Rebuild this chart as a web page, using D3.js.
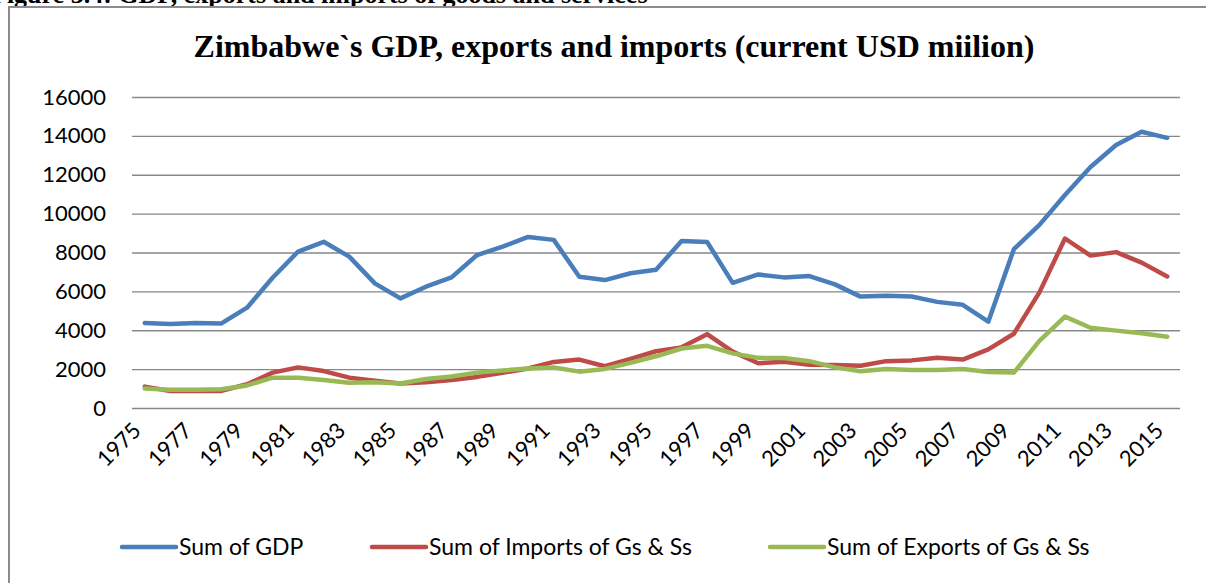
<!DOCTYPE html>
<html>
<head>
<meta charset="utf-8">
<script src="https://cdn.jsdelivr.net/npm/d3@7/dist/d3.min.js"></script>
<style>
  html, body { margin: 0; padding: 0; background: #fff; overflow: hidden; }
  svg { display: block; }
</style>
</head>
<body>
<div id="chart"></div>
<script>
// Zimbabwe GDP, imports and exports, current USD million
const years = [
  1975, 1976, 1977, 1978, 1979, 1980, 1981, 1982, 1983, 1984,
  1985, 1986, 1987, 1988, 1989, 1990, 1991, 1992, 1993, 1994,
  1995, 1996, 1997, 1998, 1999, 2000, 2001, 2002, 2003, 2004,
  2005, 2006, 2007, 2008, 2009, 2010, 2011, 2012, 2013, 2014, 2015
];

const gdp = [
  4370, 4320, 4370, 4350, 5160, 6700, 8050, 8550, 7790, 6410,
  5640, 6240, 6720, 7870, 8300, 8800, 8650, 6750, 6580, 6930,
  7110, 8590, 8540, 6440, 6870, 6720, 6790, 6360, 5730, 5780,
  5740, 5460, 5310, 4440, 8170, 9420, 10960, 12400, 13530, 14210, 13900
];

const imports = [
  1100, 870, 890, 880, 1220, 1820, 2090, 1900, 1560, 1400,
  1260, 1330, 1440, 1600, 1810, 2030, 2370, 2490, 2150, 2530,
  2920, 3120, 3800, 2900, 2300, 2380, 2220, 2210, 2170, 2410,
  2450, 2580, 2490, 3020, 3820, 5950, 8720, 7840, 8020, 7480, 6770
];

const exports = [
  1000, 940, 940, 960, 1160, 1560, 1560, 1440, 1300, 1320,
  1260, 1490, 1620, 1820, 1930, 2030, 2080, 1870, 2010, 2320,
  2660, 3060, 3200, 2810, 2580, 2570, 2410, 2090, 1890, 2010,
  1950, 1950, 2010, 1850, 1820, 3450, 4700, 4130, 3980, 3850, 3670
];

const yTicks = [0, 2000, 4000, 6000, 8000, 10000, 12000, 14000, 16000];
const xLabelYears = years.filter((d, i) => i % 2 === 0);

const seriesNames = ["Sum of GDP", "Sum of Imports of Gs & Ss", "Sum of Exports of Gs & Ss"];
const seriesColors = ["#4a7ebb", "#be4b48", "#98b954"];

const series = [gdp, imports, exports].map((vals, i) => ({
  name: seriesNames[i],
  color: seriesColors[i],
  values: vals.map((v, j) => ({ year: years[j], value: v }))
}));

// === LAYOUT ===
const W = 1206, H = 583;
const plot = { left: 132, right: 1180, top: 97, bottom: 408 };
const labelFont = "Lato, 'Open Sans', sans-serif";
const serifFont = "'Liberation Serif', 'Times New Roman', serif";

const svg = d3.select("#chart")
  .append("svg")
  .attr("width", W)
  .attr("height", H);

// caption line above the chart frame (runs off the top of the page)
svg.append("text")
  .attr("x", -9)
  .attr("y", 3)
  .style("font-family", serifFont)
  .style("font-weight", "bold")
  .style("font-size", "26px")
  .style("fill", "#000")
  .text("Figure 3.4: GDP, exports and imports of goods and services");

// chart frame
svg.append("rect")
  .attr("x", 9)
  .attr("y", 7)
  .attr("width", 1400)
  .attr("height", 800)
  .attr("fill", "#fff")
  .attr("stroke", "#8c8c8c")
  .attr("stroke-width", 2);

// title
svg.append("text")
  .attr("x", 614)
  .attr("y", 57)
  .attr("text-anchor", "middle")
  .style("font-family", serifFont)
  .style("font-weight", "bold")
  .style("font-size", "32px")
  .style("fill", "#000")
  .text("Zimbabwe`s GDP, exports and imports (current USD miilion)");

const x = d3.scalePoint()
  .domain(years)
  .range([plot.left, plot.right])
  .padding(0.5);

const y = d3.scaleLinear()
  .domain([0, 16000])
  .range([plot.bottom, plot.top]);

// gridlines + y labels
const yAxis = d3.axisLeft(y)
  .tickValues(yTicks)
  .tickSize(-(plot.right - plot.left))
  .tickPadding(26)
  .tickFormat(d3.format("d"));

const yAxisG = svg.append("g")
  .attr("transform", `translate(${plot.left},0)`)
  .call(yAxis);

yAxisG.select(".domain").remove();
yAxisG.selectAll(".tick line")
  .attr("stroke", "#878787")
  .attr("stroke-width", 1.4);
yAxisG.selectAll(".tick text")
  .style("font-family", labelFont)
  .style("font-size", "22px")
  .style("fill", "#000");

// x labels, every other year, rotated
const xAxis = d3.axisBottom(x)
  .tickValues(xLabelYears)
  .tickSize(0)
  .tickPadding(0);

const xAxisG = svg.append("g")
  .attr("transform", `translate(0,${plot.bottom})`)
  .call(xAxis);

xAxisG.select(".domain").remove();
xAxisG.selectAll(".tick text")
  .style("font-family", labelFont)
  .style("font-size", "22px")
  .style("fill", "#000")
  .attr("text-anchor", "end")
  .attr("dy", null)
  .attr("transform", "translate(-3,24) rotate(-45)");

// lines
const line = d3.line()
  .x(d => x(d.year))
  .y(d => y(d.value));

svg.append("g")
  .selectAll("path")
  .data(series)
  .join("path")
  .attr("d", d => line(d.values))
  .attr("fill", "none")
  .attr("stroke", d => d.color)
  .attr("stroke-width", 4.5)
  .attr("stroke-linejoin", "round")
  .attr("stroke-linecap", "round");

// legend
const legendX = [122, 372, 770];
const legend = svg.append("g")
  .selectAll("g")
  .data(series)
  .join("g")
  .attr("transform", (d, i) => `translate(${legendX[i]},547)`);

legend.append("line")
  .attr("x1", 0)
  .attr("x2", 54)
  .attr("stroke", d => d.color)
  .attr("stroke-width", 4.5)
  .attr("stroke-linecap", "round");

legend.append("text")
  .attr("x", 57)
  .attr("dy", "0.35em")
  .style("font-family", labelFont)
  .style("font-size", "23px")
  .style("fill", "#000")
  .text(d => d.name);
</script>
</body>
</html>
